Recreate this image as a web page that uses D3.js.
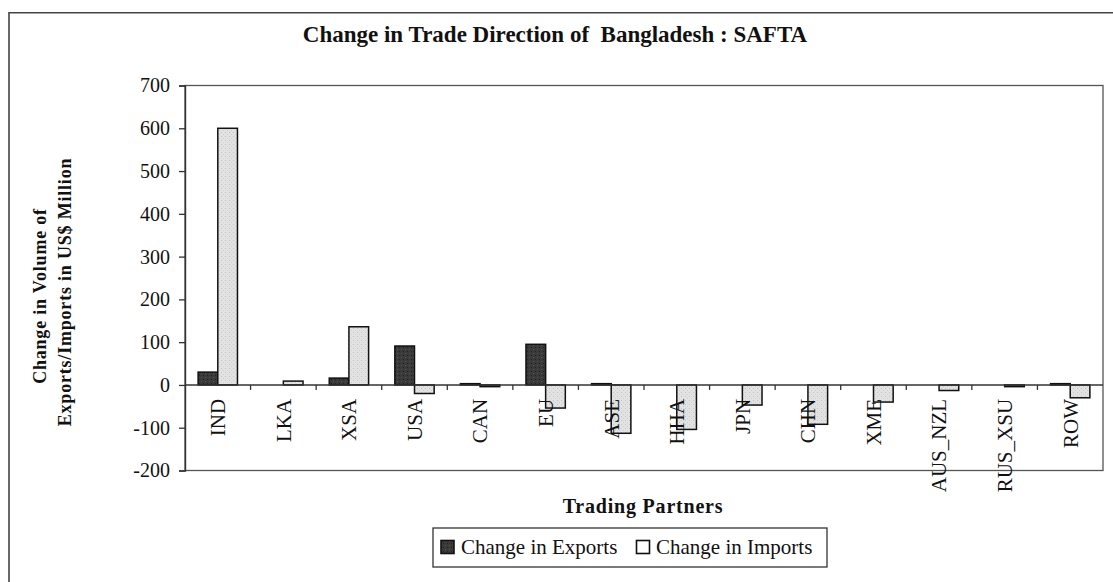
<!DOCTYPE html>
<html>
<head>
<meta charset="utf-8">
<script src="https://cdn.jsdelivr.net/npm/d3@7"></script>
<style>
  html, body { margin: 0; padding: 0; background: #fff; }
  svg { display: block; }
  text { font-family: "Liberation Serif", "Times New Roman", serif; fill: #111; }
</style>
</head>
<body>
<div id="chart"></div>
<script>
// ---- data ----
const categories = ["IND", "LKA", "XSA", "USA", "CAN", "EU", "ASE", "HHA", "JPN", "CHN", "XME", "AUS_NZL", "RUS_XSU", "ROW"];
const exportsChange = [30, 0, 16, 91, 3, 95, 3, 0, 0, 0, 0, 0, 0, 3];
const importsChange = [600, 9, 136, -20, -4, -54, -113, -104, -47, -92, -40, -13, -4, -30];
const seriesNames = ["Change in Exports", "Change in Imports"];
const yTicks = [-200, -100, 0, 100, 200, 300, 400, 500, 600, 700];
const titleText = "Change in Trade Direction of  Bangladesh : SAFTA";
const yTitle1 = "Change in Volume of";
const yTitle2 = "Exports/Imports in US$ Million";
const xTitle = "Trading Partners";

const W = 1113, H = 582;
const plot = { left: 185, right: 1103, top: 85.5, bottom: 470.5 };

const svg = d3.select("#chart").append("svg").attr("width", W).attr("height", H);

// patterns for stippled fills
const defs = svg.append("defs");
const pExp = defs.append("pattern").attr("id", "pExp").attr("patternUnits", "userSpaceOnUse")
  .attr("width", 4).attr("height", 4);
pExp.append("rect").attr("width", 4).attr("height", 4).attr("fill", "#3a3a3a");
pExp.append("rect").attr("x", 1).attr("y", 1).attr("width", 1).attr("height", 1).attr("fill", "#555");
pExp.append("rect").attr("x", 3).attr("y", 3).attr("width", 1).attr("height", 1).attr("fill", "#222");
const pImp = defs.append("pattern").attr("id", "pImp").attr("patternUnits", "userSpaceOnUse")
  .attr("width", 4).attr("height", 4);
pImp.append("rect").attr("width", 4).attr("height", 4).attr("fill", "#e2e2e2");
pImp.append("rect").attr("x", 1).attr("y", 0).attr("width", 1).attr("height", 1).attr("fill", "#c4c4c4");
pImp.append("rect").attr("x", 3).attr("y", 2).attr("width", 1).attr("height", 1).attr("fill", "#cfcfcf");

// outer chart frame (left and top edges visible)
svg.append("path")
  .attr("d", `M9,${H} L9,12.7 L${W},12.7`)
  .attr("fill", "none").attr("stroke", "#444").attr("stroke-width", 1.6);

// title
svg.append("text")
  .attr("x", 555).attr("y", 42)
  .attr("text-anchor", "middle")
  .attr("font-size", 23).attr("font-weight", "bold")
  .style("white-space", "pre")
  .text(titleText);

// scales
const x = d3.scaleBand().domain(categories).range([plot.left, plot.right])
  .paddingInner(0.4).paddingOuter(0.2);
const xs = d3.scaleBand().domain(["exp", "imp"]).range([0, x.bandwidth()]);
const y = d3.scaleLinear().domain([-200, 700]).range([plot.bottom, plot.top]);

// plot area border
svg.append("rect")
  .attr("x", plot.left).attr("y", plot.top)
  .attr("width", plot.right - plot.left).attr("height", plot.bottom - plot.top)
  .attr("fill", "#fff").attr("stroke", "#555").attr("stroke-width", 1.3);

// bars
const rows = categories.map((c, i) => ({ c, exp: exportsChange[i], imp: importsChange[i] }));
const g = svg.append("g");
rows.forEach(r => {
  [["exp", r.exp, "url(#pExp)"], ["imp", r.imp, "url(#pImp)"]].forEach(([k, v, fill]) => {
    if (v === 0) return;
    g.append("rect")
      .attr("x", x(r.c) + xs(k))
      .attr("y", y(Math.max(0, v)))
      .attr("width", xs.bandwidth())
      .attr("height", Math.abs(y(v) - y(0)))
      .attr("fill", fill)
      .attr("stroke", "#111").attr("stroke-width", 1.5);
  });
});

// y axis
const yAxis = d3.axisLeft(y).tickValues(yTicks).tickSize(6).tickPadding(9).tickFormat(d => String(d));
const ya = svg.append("g").attr("transform", `translate(${plot.left},0)`).call(yAxis);
ya.select(".domain").attr("stroke", "#333").attr("stroke-width", 1.4);
ya.selectAll(".tick line").attr("stroke", "#333").attr("stroke-width", 1.3);
ya.selectAll(".tick text").attr("font-size", 20).attr("font-family", "Liberation Serif, serif").attr("fill", "#111");

// x axis at zero with ticks at category boundaries
svg.append("line")
  .attr("x1", plot.left).attr("x2", plot.right)
  .attr("y1", y(0)).attr("y2", y(0))
  .attr("stroke", "#333").attr("stroke-width", 1.4);
const bounds = categories.slice(1).map(c => x(c) - x.step() * x.paddingInner() / 2);
svg.selectAll(".xtick").data(bounds).enter().append("line")
  .attr("x1", d => d).attr("x2", d => d)
  .attr("y1", y(0)).attr("y2", y(0) + 5)
  .attr("stroke", "#333").attr("stroke-width", 1.3);

// x category labels (rotated)
svg.selectAll(".xlab").data(categories).enter().append("text")
  .attr("transform", d => `translate(${x(d) + x.bandwidth() / 2},${y(0) + 14}) rotate(-90)`)
  .attr("text-anchor", "end")
  .attr("dy", "0.35em")
  .attr("font-size", 21)
  .text(d => d);

// axis titles
svg.append("text")
  .attr("transform", `translate(46,296) rotate(-90)`)
  .attr("text-anchor", "middle")
  .attr("font-size", 18).attr("font-weight", "bold").attr("letter-spacing", 0.8)
  .text(yTitle1);
svg.append("text")
  .attr("transform", `translate(71,292) rotate(-90)`)
  .attr("text-anchor", "middle")
  .attr("font-size", 18).attr("font-weight", "bold").attr("letter-spacing", 0.8)
  .text(yTitle2);

svg.append("text")
  .attr("x", 643).attr("y", 513)
  .attr("text-anchor", "middle")
  .attr("font-size", 20).attr("font-weight", "bold").attr("letter-spacing", 0.8)
  .text(xTitle);

// legend
const lg = svg.append("g");
lg.append("rect").attr("x", 433).attr("y", 528).attr("width", 394).attr("height", 39)
  .attr("fill", "#fff").attr("stroke", "#333").attr("stroke-width", 1.3);
const legendItems = [
  { name: seriesNames[0], fill: "url(#pExp)", sx: 441, tx: 461 },
  { name: seriesNames[1], fill: "#fff", sx: 636.5, tx: 656 }
];
legendItems.forEach(it => {
  lg.append("rect").attr("x", it.sx).attr("y", 540.5).attr("width", 13).attr("height", 13)
    .attr("fill", it.fill).attr("stroke", "#111").attr("stroke-width", 1.6);
  lg.append("text").attr("x", it.tx).attr("y", 554).attr("font-size", 21).text(it.name);
});
</script>
</body>
</html>
